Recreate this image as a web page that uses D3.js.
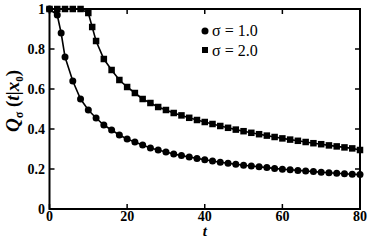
<!DOCTYPE html>
<html><head><meta charset="utf-8">
<script src="https://cdn.jsdelivr.net/npm/d3@7"></script>
<style>body{margin:0;background:#fff}</style>
</head><body>
<svg id="c" width="368" height="240"></svg>
<script>
const t1 = [0,2,3,4,6,8,10,12,14,16,18,20,22,24,26,28,30,32,34,36,38,40,42,44,46,48,50,52,54,56,58,60,62,64,66,68,70,72,74,76,78,80];
const q1 = [1.0,0.97,0.88,0.76,0.64,0.55,0.495,0.455,0.42,0.395,0.37,0.35,0.335,0.32,0.305,0.295,0.285,0.275,0.267,0.26,0.253,0.246,0.24,0.234,0.229,0.224,0.219,0.215,0.211,0.207,0.203,0.199,0.196,0.193,0.19,0.187,0.184,0.181,0.179,0.176,0.174,0.172];
const t2 = [0,2,4,6,8,10,11,12,14,16,18,20,22,24,26,28,30,32,34,36,38,40,42,44,46,48,50,52,54,56,58,60,62,64,66,68,70,72,74,76,78,80];
const q2 = [1.0,1.0,1.0,1.0,1.0,0.98,0.91,0.84,0.75,0.695,0.645,0.61,0.58,0.55,0.53,0.51,0.495,0.48,0.468,0.456,0.445,0.435,0.425,0.415,0.406,0.397,0.389,0.381,0.374,0.367,0.36,0.353,0.347,0.341,0.335,0.329,0.324,0.318,0.313,0.308,0.303,0.295];
const xTicks = [0,20,40,60,80];
const yTicks = [0,0.2,0.4,0.6,0.8,1];
const legendLabels = ["σ = 1.0","σ = 2.0"];

const svg = d3.select("#c");
const L=49.5, R=360, T=9, B=209;
const x = d3.scaleLinear().domain([0,80]).range([L,R]);
const y = d3.scaleLinear().domain([0,1]).range([B,T]);
const font = "'Liberation Serif','Times New Roman',serif";

// ticks inward
const tl = 5;
const ax = svg.append("g").attr("stroke","#000").attr("stroke-width",1.5);
xTicks.forEach(v=>{
  ax.append("line").attr("x1",x(v)).attr("x2",x(v)).attr("y1",B).attr("y2",B-tl);
  ax.append("line").attr("x1",x(v)).attr("x2",x(v)).attr("y1",T).attr("y2",T+tl);
});
yTicks.forEach(v=>{
  ax.append("line").attr("x1",L).attr("x2",L+tl).attr("y1",y(v)).attr("y2",y(v));
  ax.append("line").attr("x1",R).attr("x2",R-tl).attr("y1",y(v)).attr("y2",y(v));
});
svg.append("rect").attr("x",L).attr("y",T).attr("width",R-L).attr("height",B-T)
  .attr("fill","none").attr("stroke","#000").attr("stroke-width",2);

// tick labels
svg.append("g").selectAll("text").data(xTicks).join("text")
  .attr("x",d=>x(d)).attr("y",221).attr("text-anchor","middle")
  .attr("font-family",font).attr("font-weight","bold").attr("font-size",14).text(d=>d);
svg.append("g").selectAll("text").data(yTicks).join("text")
  .attr("x",45).attr("y",d=>y(d)+5).attr("text-anchor","end")
  .attr("font-family",font).attr("font-weight","bold").attr("font-size",14)
  .text(d=>d===0?"0":d===1?"1":d.toFixed(1));

// axis titles
svg.append("text").attr("x",(L+R)/2).attr("y",236).attr("text-anchor","middle")
  .attr("font-family",font).attr("font-weight","bold").attr("font-style","italic").attr("font-size",15).text("t");
const yl = svg.append("text").attr("transform","translate(19,101) rotate(-90)").attr("text-anchor","middle")
  .attr("font-family",font).attr("font-weight","bold").attr("font-size",19);
yl.append("tspan").attr("font-style","italic").text("Q");
yl.append("tspan").attr("font-size",12).attr("dy",4).text("σ");
yl.append("tspan").attr("dy",-4).text(" (");
yl.append("tspan").attr("font-style","italic").text("t");
yl.append("tspan").text("|");
yl.append("tspan").attr("font-style","italic").text("x");
yl.append("tspan").attr("font-size",11).attr("dy",4).text("0");
yl.append("tspan").attr("dy",-4).text(")");

// series
const d1 = t1.map((t,i)=>[t,q1[i]]);
const d2 = t2.map((t,i)=>[t,q2[i]]);
const line = d3.line().x(d=>x(d[0])).y(d=>y(d[1]));
svg.append("path").datum(d1).attr("d",line).attr("fill","none").attr("stroke","#000").attr("stroke-width",1.6);
svg.append("path").datum(d2).attr("d",line).attr("fill","none").attr("stroke","#000").attr("stroke-width",1.6);
svg.append("g").selectAll("circle").data(d1).join("circle")
  .attr("cx",d=>x(d[0])).attr("cy",d=>y(d[1])).attr("r",3.5).attr("fill","#000");
const s=6.5;
svg.append("g").selectAll("rect").data(d2).join("rect")
  .attr("x",d=>x(d[0])-s/2).attr("y",d=>y(d[1])-s/2).attr("width",s).attr("height",s).attr("fill","#000");

// legend
svg.append("circle").attr("cx",205).attr("cy",31).attr("r",3.5).attr("fill","#000");
svg.append("rect").attr("x",202).attr("y",47).attr("width",6).attr("height",6).attr("fill","#000");
svg.selectAll(".lg").data(legendLabels).join("text").attr("class","lg")
  .attr("x",212).attr("y",(d,i)=>36+i*20)
  .attr("font-family",font).attr("font-size",16).text(d=>d);
</script>
</body></html>
